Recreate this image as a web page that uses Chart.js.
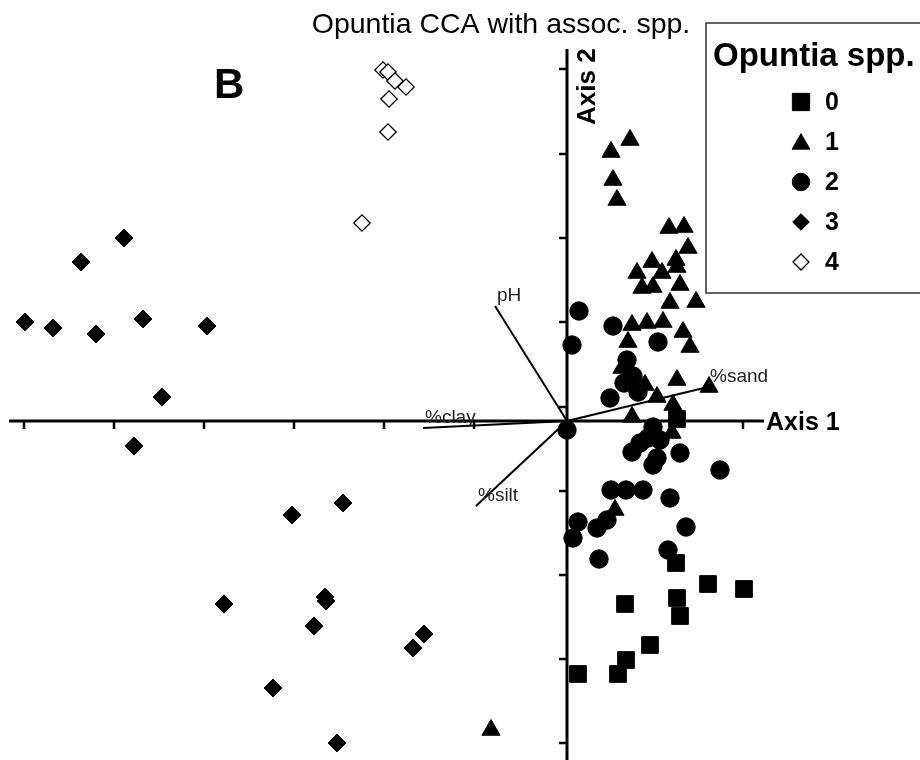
<!DOCTYPE html>
<html>
<head>
<meta charset="utf-8">
<title>Opuntia CCA with assoc. spp.</title>
<script src="https://cdn.jsdelivr.net/npm/chart.js@4.4.1/dist/chart.umd.min.js"></script>
<style>
  html, body { margin: 0; padding: 0; background: #fff; }
  #wrap { width: 920px; height: 760px; }
</style>
</head>
<body>
<div id="wrap"><canvas id="cca" width="920" height="760"></canvas></div>
<script>
// CCA site scores (Axis 1, Axis 2) for each Opuntia group
const groupLabels = ['0', '1', '2', '3', '4'];

const group0 = [
  [1.09, -1.42], [1.41, -1.63], [1.77, -1.68], [0.58, -1.83], [1.10, -1.77],
  [1.13, -1.95], [0.83, -2.24], [0.59, -2.39], [0.11, -2.53], [0.51, -2.53],
  [1.10, 0.02]
];

const group1 = [
  [0.44, 2.69], [0.63, 2.81], [0.46, 2.41], [0.50, 2.21], [1.02, 1.93],
  [1.17, 1.94], [1.21, 1.73], [0.85, 1.59], [1.09, 1.61], [0.70, 1.48],
  [0.95, 1.48], [1.10, 1.54], [0.75, 1.33], [1.13, 1.36], [0.86, 1.34],
  [1.03, 1.18], [1.29, 1.19], [0.65, 0.96], [0.80, 0.98], [0.96, 0.99],
  [1.16, 0.89], [1.23, 0.74], [0.61, 0.79], [1.10, 0.41], [0.90, 0.24],
  [1.06, 0.16], [1.42, 0.34], [0.65, 0.04], [1.05, -0.12], [0.55, 0.53],
  [0.63, 0.38], [0.78, 0.36], [0.48, -0.89], [-0.76, -3.09]
];

const group2 = [
  [0.12, 1.10], [0.46, 0.95], [0.05, 0.76], [0.91, 0.79], [0.60, 0.61],
  [0.66, 0.45], [0.57, 0.38], [0.71, 0.29], [0.43, 0.23], [0.00, -0.09],
  [0.86, -0.06], [0.81, -0.17], [0.93, -0.19], [0.65, -0.31], [0.90, -0.37],
  [1.13, -0.32], [0.86, -0.44], [1.53, -0.49], [0.44, -0.69], [0.59, -0.69],
  [0.76, -0.69], [1.03, -0.77], [0.11, -1.01], [0.30, -1.07], [0.40, -0.99],
  [0.06, -1.17], [0.32, -1.38], [1.19, -1.06], [1.01, -1.29], [0.73, -0.22]
];

const group3 = [
  [-4.43, 1.83], [-4.86, 1.59], [-5.42, 0.99], [-5.14, 0.93], [-4.71, 0.87],
  [-4.24, 1.02], [-3.60, 0.95], [-4.05, 0.24], [-4.33, -0.25], [-2.75, -0.94],
  [-2.24, -0.82], [-3.43, -1.83], [-2.42, -1.76], [-2.41, -1.80], [-2.53, -2.05],
  [-1.43, -2.13], [-1.54, -2.27], [-2.94, -2.67], [-2.30, -3.22]
];

const group4 = [
  [-1.84, 3.51], [-1.79, 3.49], [-1.72, 3.40], [-1.61, 3.34], [-1.78, 3.22],
  [-1.79, 2.89], [-2.05, 1.98]
];

// environmental biplot vectors (tips)
const vectorNames = ['pH', '%clay', '%silt', '%sand'];
const vectorEnds = [[-0.72, 1.15], [-1.44, -0.07], [-0.91, -0.85], [1.41, 0.34]];

// tick marks along the two axes (no tick labels in the original)
const axis1Ticks = [-5.43, -4.53, -3.63, -2.73, -1.83, -0.93, -0.03, 0.86, 1.76];
const axis2Ticks = [3.52, 2.67, 1.83, 0.99, 0.14, -0.70, -1.54, -2.38, -3.22];
const axis1Range = [-5.58, 1.97];
const axis2Range = [-3.39, 3.72];

const FONT = '"Liberation Sans", Arial, sans-serif';

function pts(arr) {
  return arr.map(([x, y]) => ({ x, y }));
}

const markerStyles = [
  { pointStyle: 'rect', radius: 11.8, fill: '#000', legendRadius: 12.2 },
  { pointStyle: 'triangle', radius: 10.5, fill: '#000', legendRadius: 10.3 },
  { pointStyle: 'circle', radius: 9.2, fill: '#000', legendRadius: 8.7 },
  { pointStyle: 'rectRot', radius: 9, fill: '#000', legendRadius: 8.3 },
  { pointStyle: 'rectRot', radius: 8.2, fill: '#fff', legendRadius: 8 }
];

const groups = [group0, group1, group2, group3, group4];

const vectorDatasets = vectorNames.map((name, i) => ({
  label: name,
  data: [{ x: 0, y: 0 }, { x: vectorEnds[i][0], y: vectorEnds[i][1] }],
  showLine: true,
  borderColor: '#000',
  borderWidth: 2,
  pointRadius: 0,
  order: 0
}));

const groupDatasets = groups.map((g, i) => ({
  label: groupLabels[i],
  data: pts(g),
  pointStyle: markerStyles[i].pointStyle,
  pointRadius: markerStyles[i].radius,
  backgroundColor: markerStyles[i].fill,
  borderColor: '#000',
  borderWidth: i === 4 ? 1.3 : 1,
  order: 1
}));

const ccaDecor = {
  id: 'ccaDecor',
  beforeDatasetsDraw(chart) {
    const { ctx, scales: { x, y } } = chart;
    const x0 = x.getPixelForValue(0);
    const y0 = y.getPixelForValue(0);
    ctx.save();
    ctx.strokeStyle = '#000';
    ctx.lineWidth = 3;
    ctx.beginPath();
    ctx.moveTo(x.getPixelForValue(axis1Range[0]), y0);
    ctx.lineTo(x.getPixelForValue(axis1Range[1]), y0);
    ctx.moveTo(x0, y.getPixelForValue(axis2Range[1]));
    ctx.lineTo(x0, y.getPixelForValue(axis2Range[0]));
    ctx.stroke();

    ctx.lineWidth = 2.5;
    ctx.beginPath();
    axis1Ticks.forEach(t => {
      const px = x.getPixelForValue(t);
      ctx.moveTo(px, y0);
      ctx.lineTo(px, y0 + 8);
    });
    axis2Ticks.forEach(t => {
      const py = y.getPixelForValue(t);
      ctx.moveTo(x0, py);
      ctx.lineTo(x0 - 8, py);
    });
    ctx.stroke();
    ctx.restore();
  },
  afterDatasetsDraw(chart) {
    const { ctx, scales: { x, y } } = chart;
    const x0 = x.getPixelForValue(0);
    const y0 = y.getPixelForValue(0);
    ctx.save();

    // vector labels
    ctx.fillStyle = '#222';
    ctx.font = '19px ' + FONT;
    ctx.textAlign = 'left';
    ctx.textBaseline = 'alphabetic';
    vectorNames.forEach((name, i) => {
      const px = x.getPixelForValue(vectorEnds[i][0]);
      const py = y.getPixelForValue(vectorEnds[i][1]);
      ctx.fillText(name, px + 2, py - 5);
    });

    // chart title
    ctx.fillStyle = '#000';
    ctx.font = '28.5px ' + FONT;
    ctx.textAlign = 'center';
    ctx.fillText('Opuntia CCA with assoc. spp.', 501, 33);

    // panel letter
    ctx.font = 'bold 42px ' + FONT;
    ctx.textAlign = 'left';
    ctx.fillText('B', 214, 98);

    // axis names
    ctx.font = 'bold 25px ' + FONT;
    ctx.fillText('Axis 1', x.getPixelForValue(axis1Range[1]) + 2, y0 + 9);
    ctx.save();
    ctx.translate(x0 + 28, y.getPixelForValue(axis2Range[1]) + 76);
    ctx.rotate(-Math.PI / 2);
    ctx.font = 'bold 26px ' + FONT;
    ctx.fillText('Axis 2', 0, 0);
    ctx.restore();

    // legend box
    ctx.fillStyle = '#fff';
    ctx.fillRect(706, 23, 220, 270);
    ctx.strokeStyle = '#333';
    ctx.lineWidth = 1.5;
    ctx.strokeRect(706, 23, 220, 270);
    ctx.fillStyle = '#000';
    ctx.font = 'bold 33px ' + FONT;
    ctx.fillText('Opuntia spp.', 713, 66);

    ctx.font = 'bold 25px ' + FONT;
    ctx.textBaseline = 'middle';
    groupLabels.forEach((lab, i) => {
      const cy = 102 + i * 40;
      const m = markerStyles[i];
      ctx.fillStyle = m.fill;
      ctx.strokeStyle = '#000';
      ctx.lineWidth = i === 4 ? 1.3 : 1;
      Chart.helpers.drawPoint(ctx, {
        pointStyle: m.pointStyle,
        radius: m.legendRadius,
        borderWidth: ctx.lineWidth,
        rotation: 0
      }, 801, i === 1 ? cy + 2 : cy);
      ctx.fillStyle = '#000';
      ctx.fillText(lab, 825, cy + 1);
    });
    ctx.restore();
  }
};

Chart.defaults.font.family = FONT;

new Chart(document.getElementById('cca'), {
  type: 'scatter',
  data: { datasets: [...vectorDatasets, ...groupDatasets] },
  options: {
    responsive: false,
    animation: false,
    layout: { padding: 0, autoPadding: false },
    plugins: {
      legend: { display: false },
      title: { display: false },
      tooltip: { enabled: false }
    },
    scales: {
      x: { type: 'linear', min: -5.67, max: 3.53, display: false },
      y: { type: 'linear', min: -3.39, max: 4.21, display: false }
    }
  },
  plugins: [ccaDecor]
});
</script>
</body>
</html>
